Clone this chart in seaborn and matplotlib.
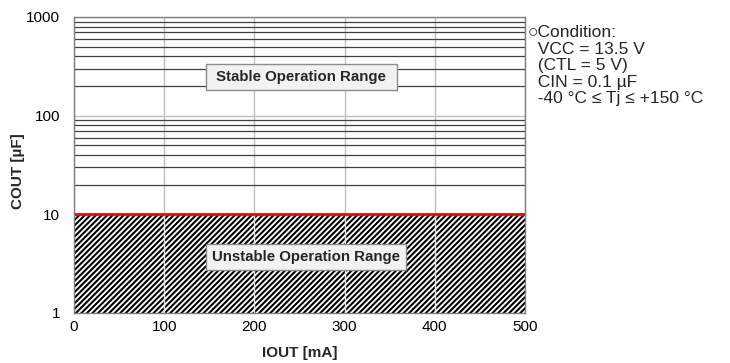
import numpy as np
import pandas as pd
import matplotlib
matplotlib.use("Agg")
import matplotlib.pyplot as plt
import seaborn as sns
from matplotlib.ticker import FixedLocator, NullFormatter

# boundary of the stable region
iout = [0, 500]
cout_min = [10, 10]
x_ticks = [0, 100, 200, 300, 400, 500]
y_ticks = [1, 10, 100, 1000]
y_ticklabels = ["1", "10", "100", "1000"]
condition_lines = ["\u25cbCondition:", "  VCC = 13.5 V", "  (CTL = 5 V)",
                   "  CIN = 0.1 \u00b5F", "  -40 \u00b0C \u2264 Tj \u2264 +150 \u00b0C"]

sns.set_style("white")
plt.rcParams['font.family'] = ['Liberation Sans', 'DejaVu Sans']
plt.rcParams['hatch.linewidth'] = 1.5

fig = plt.figure(figsize=(7.3, 3.63), dpi=100)
ax = fig.add_axes([74 / 730, 1 - 313 / 363, 451 / 730, 296 / 363])

ax.set_yscale("log")
ax.set_xlim(0, 500)
ax.set_ylim(1, 1000)

# hatched unstable region (covers the grid)
ax.fill_between(iout, [1, 1], cout_min, facecolor="white", edgecolor="black",
                hatch="//////", linewidth=0, zorder=1)
# faint vertical grid visible through the hatch
ax.vlines(x_ticks[1:-1], 1, cout_min[0], color="#e6e6e6", linewidth=1, zorder=1.5)

df = pd.DataFrame({"IOUT": iout, "COUT": cout_min})
sns.lineplot(data=df, x="IOUT", y="COUT", color="#ff0000", linewidth=2, ax=ax, zorder=4)

ax.yaxis.set_major_locator(FixedLocator(y_ticks))
ax.yaxis.set_minor_locator(FixedLocator(
    [m * 10 ** d for d in range(0, 3) for m in range(2, 10)]))
ax.yaxis.set_minor_formatter(NullFormatter())
ax.set_yticklabels(y_ticklabels)
ax.set_xticks(x_ticks)

ax.set_axisbelow(True)
ax.grid(True, which="major", axis="both", color="#bfbfbf", linewidth=1)
ax.grid(True, which="minor", axis="y", color="#404040", linewidth=0.9)

for s in ax.spines.values():
    s.set_visible(True)
    s.set_color("#7f7f7f")
    s.set_linewidth(1)
    s.set_zorder(5)
ax.tick_params(axis="y", which="both", length=0, labelsize=11, pad=10, colors="#000000")
ax.tick_params(axis="x", which="both", length=0, labelsize=11, pad=5, colors="#000000")

ax.set_xlabel("IOUT [mA]", fontsize=11, fontweight="bold", labelpad=8.5)
ax.set_ylabel("COUT [\u00b5F]", fontsize=11, fontweight="bold")
ax.yaxis.set_label_coords(-0.108, 0.48)

box = dict(boxstyle="square,pad=0.42", facecolor="#f2f2f2", edgecolor="#8c8c8c", linewidth=1)
ax.text(252, 246, " Stable Operation Range ", ha="center", va="center",
        fontsize=10.8, fontweight="bold", bbox=box, zorder=6)
ax.text(257, 3.7, "Unstable Operation Range", ha="center", va="center",
        fontsize=10.8, fontweight="bold", bbox=box, zorder=6)

fig.text(528 / 730, 1 - 25 / 363, "\n".join(condition_lines), ha="left", va="top",
         fontsize=12.5, linespacing=1.13)

fig.savefig("out.png", dpi=100)
